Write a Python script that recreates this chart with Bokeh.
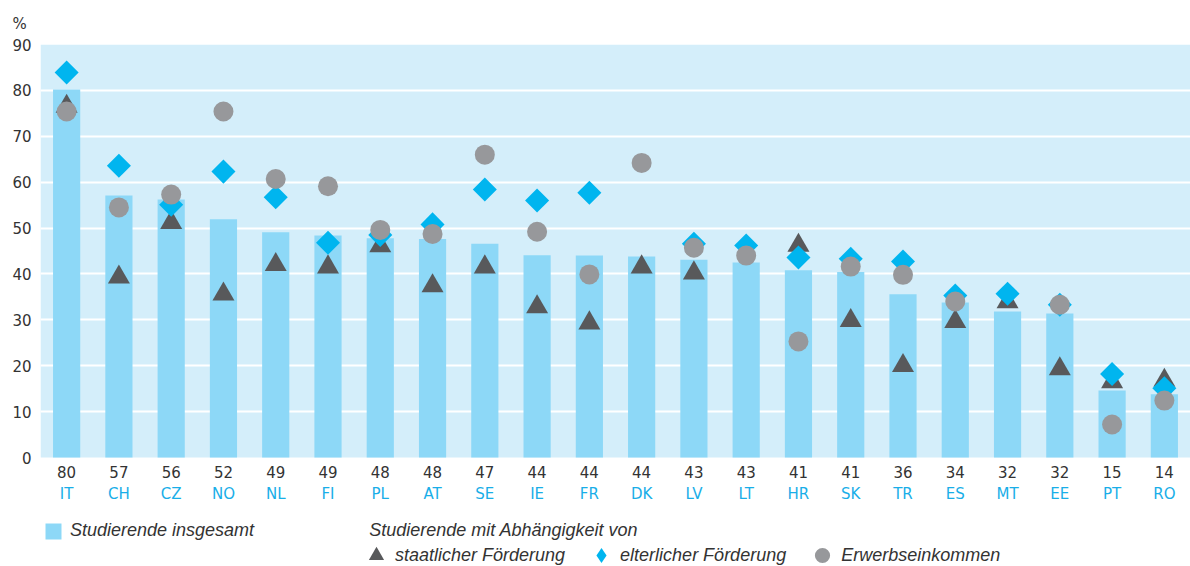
import numpy as np
from bokeh.plotting import figure
from bokeh.models import (FactorRange, Range1d, FixedTicker, Legend,
                          LegendItem, ColumnDataSource, BoxAnnotation)
from bokeh.embed import file_html
from bokeh.resources import INLINE

nan = float("nan")

countries = ["IT", "CH", "CZ", "NO", "NL", "FI", "PL", "AT", "SE", "IE", "FR",
             "DK", "LV", "LT", "HR", "SK", "TR", "ES", "MT", "EE", "PT", "RO"]
total = [80.2, 57.1, 56.2, 51.9, 49.1, 48.4, 47.8, 47.6, 46.6, 44.1, 44.0,
         43.8, 43.1, 42.5, 40.8, 40.4, 35.6, 33.8, 31.8, 31.4, 14.6, 13.8]
total_labels = ["80", "57", "56", "52", "49", "49", "48", "48", "47", "44", "44",
                "44", "43", "43", "41", "41", "36", "34", "32", "32", "15", "14"]
state = [76.5, 39.3, 51.2, 35.6, 42.0, 41.5, 46.1, 37.4, 41.5, 32.8, 29.3,
         41.5, 40.2, nan, 46.2, 29.8, 20.0, 29.6, 33.9, 19.3, 16.5, 16.8]
parents = [83.9, 63.6, 55.1, 62.3, 56.7, 46.8, 48.5, 50.8, 58.4, 56.0, 57.7,
           nan, 46.6, 46.2, 43.6, 43.3, 42.7, 35.3, 35.7, 33.3, 18.2, 15.1]
earnings = [75.4, 54.5, 57.3, 75.4, 60.7, 59.1, 49.6, 48.7, 66.0, 49.2, 39.9,
            64.2, 45.7, 44.0, 25.3, 41.6, 39.8, 34.0, nan, 33.3, 7.2, 12.4]
y_ticks = [0, 10, 20, 30, 40, 50, 60, 70, 80, 90]

FONT = "DejaVu Sans"
LFONT = "Liberation Sans"
DARK = "#333333"

# nested factors: group = country code (lower row), sub-factor = rounded total (upper row)
factors = list(zip(countries, total_labels))
src = ColumnDataSource(dict(x=factors, total=total, state=state,
                            parents=parents, earnings=earnings))

# the frame runs down to the page bottom so that the legend can sit inside it;
# the value scale (0..90) keeps its own proportions, the part below 0 holds labels
p = figure(x_range=FactorRange(factors=factors, group_padding=0, factor_padding=0,
                               range_padding=0),
           y_range=Range1d(-23.75, 90),
           width=1190, height=566, output_backend="svg", toolbar_location=None,
           min_border_left=40, min_border_right=0, min_border_top=44,
           min_border_bottom=0, title="%")
p.background_fill_color = "white"
p.border_fill_color = "white"
p.outline_line_color = None

p.add_layout(BoxAnnotation(bottom=0, top=90, fill_color="#d4eefa", fill_alpha=1,
                           line_color=None, level="image"))

p.title.align = "left"
p.title.offset = -28
p.title.standoff = 23
p.title.text_font = FONT
p.title.text_font_size = "15px"
p.title.text_font_style = "normal"
p.title.text_color = DARK

p.xgrid.visible = False
p.ygrid.ticker = FixedTicker(ticks=y_ticks[1:-1])
p.ygrid.grid_line_color = "white"
p.ygrid.grid_line_width = 2

# y axis
p.yaxis.ticker = FixedTicker(ticks=y_ticks)
p.yaxis.axis_line_color = None
p.yaxis.major_tick_line_color = None
p.yaxis.minor_tick_line_color = None
p.yaxis.major_tick_out = 0
p.yaxis.major_tick_in = 0
p.yaxis.major_label_standoff = 9
p.yaxis.major_label_text_font = FONT
p.yaxis.major_label_text_font_size = "15px"
p.yaxis.major_label_text_color = DARK

# x axis just under value 0: rounded totals (sub-factor) and country codes (group)
ax = p.xaxis[0]
ax.fixed_location = -1
ax.axis_line_color = None
ax.major_tick_line_color = None
ax.major_tick_out = 0
ax.major_tick_in = 0
ax.major_label_standoff = 4
ax.major_label_text_font = FONT
ax.major_label_text_font_size = "15px"
ax.major_label_text_color = DARK
ax.group_text_font = FONT
ax.group_text_font_size = "15px"
ax.group_text_font_style = "normal"
ax.group_text_color = "#19aee8"
ax.separator_line_color = None

bars = p.vbar(x="x", top="total", width=0.52, source=src,
              fill_color="#8dd8f7", line_color=None)
tri = p.scatter(x="x", y="state", source=src, marker="triangle", size=22,
                fill_color="#58595b", line_color=None)
dia = p.scatter(x="x", y="parents", source=src, marker="square",
                angle=np.pi / 4, size=17, fill_color="#00b5ef", line_color=None)
cir = p.scatter(x="x", y="earnings", source=src, marker="circle", size=20,
                fill_color="#97989b", line_color=None)

# legend helpers: a diamond glyph (legend glyphs ignore angle; its single row has no
# value, so nothing is drawn in the plot) and an empty glyph for the heading text
proxy = ColumnDataSource(dict(x=[factors[0]], y=[nan]))
dia_leg = p.scatter(x="x", y="y", source=proxy, marker="diamond",
                    fill_color="#00b5ef", line_color=None)
blank = p.scatter(x="x", y="y", source=proxy, marker="circle",
                  fill_alpha=0, line_alpha=0)

common = dict(background_fill_alpha=0, border_line_color=None, padding=0, margin=0,
              label_text_font=LFONT, label_text_font_style="italic",
              label_text_font_size="18px", label_text_color=DARK,
              orientation="horizontal")

leg1 = Legend(items=[LegendItem(label="Studierende insgesamt", renderers=[bars]),
                     LegendItem(label="Studierende mit Abhängigkeit von", renderers=[blank])],
              location=(3, 25), glyph_width=20, glyph_height=20, label_height=20,
              label_standoff=7, spacing=88, **common)
leg2 = Legend(items=[LegendItem(label="staatlicher Förderung", renderers=[tri]),
                     LegendItem(label="elterlicher Förderung", renderers=[dia_leg]),
                     LegendItem(label="Erwerbseinkommen", renderers=[cir])],
              location=(317, -8), glyph_width=38, glyph_height=38,
              label_standoff=-3, spacing=17, **common)
p.add_layout(leg1, "center")
p.add_layout(leg2, "center")

open("out.html", "w").write(file_html(p, INLINE))
